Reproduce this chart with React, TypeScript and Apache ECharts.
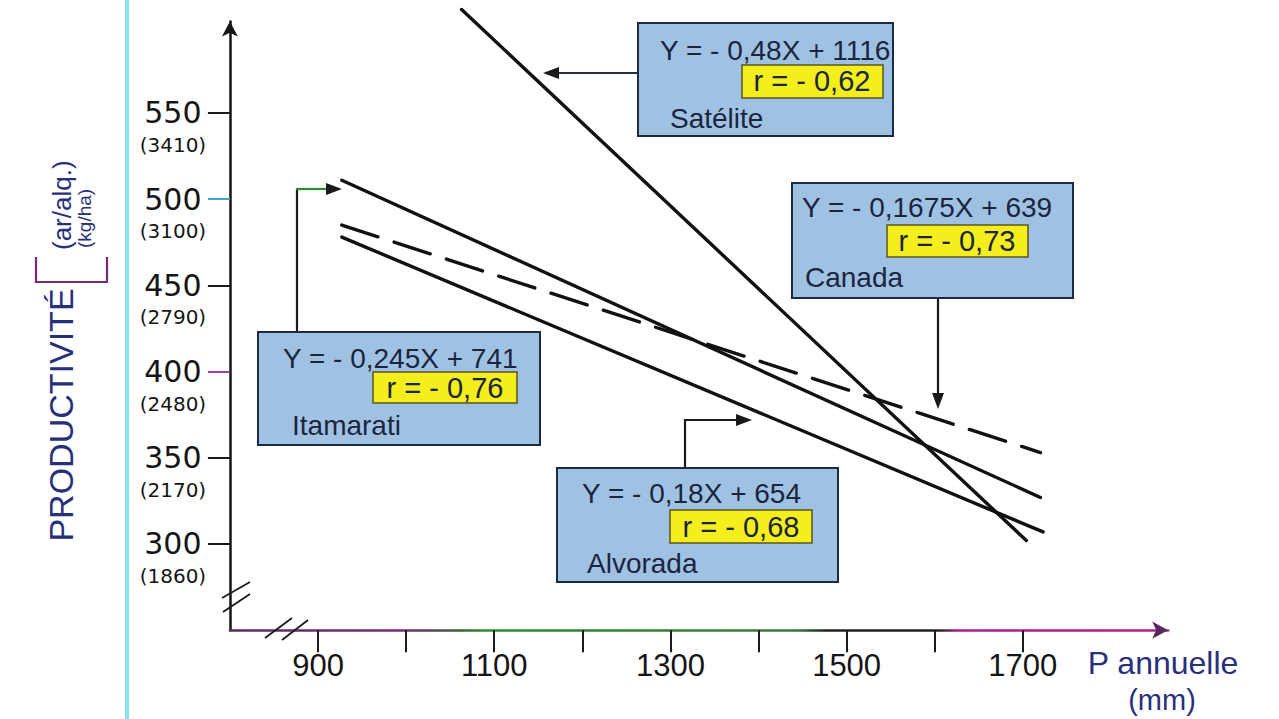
import React, { useEffect, useRef } from "react";
import * as echarts from "echarts";

// ---- data ----
const xTickValues = [900, 1000, 1100, 1200, 1300, 1400, 1500, 1600, 1700];
const xLabelValues = [900, 1100, 1300, 1500, 1700];
const yTickValues = [300, 350, 400, 450, 500, 550];
const yKgLabels = ["(1860)", "(2170)", "(2480)", "(2790)", "(3100)", "(3410)"];

// endpoints of the regression lines [P annuelle, productivité]
const sateliteLine = [[1063, 610], [1704, 302]];
const itamaratiLine = [[927, 511], [1720, 327]];
const canadaLine = [[927, 485], [1720, 353]];
const alvoradaLine = [[927, 478], [1723, 307]];

const annotations = [
  { eq: "Y = - 0,48X + 1116", r: "r = - 0,62", name: "Satélite" },
  { eq: "Y = - 0,1675X + 639", r: "r = - 0,73", name: "Canada" },
  { eq: "Y = - 0,245X + 741", r: "r = - 0,76", name: "Itamarati" },
  { eq: "Y = - 0,18X + 654", r: "r = - 0,68", name: "Alvorada" },
];

const FONT = "'Liberation Sans', Arial, sans-serif";
const WIDE = "'DejaVu Sans', 'Liberation Sans', sans-serif";
const NAVY = "#28307a";
const TXT = "#1b2540";

// box layouts (left, top, width, height, eq left/y, yellow box, r center, name left/y)
const boxLayouts = [
  { x: 638, y: 23, w: 255, h: 113, ex: 660, ey: 50, yb: [742, 65, 141, 33], rx: 812, ry: 81, nx: 670, ny: 118 },
  { x: 792, y: 183, w: 281, h: 115, ex: 802, ey: 207, yb: [887, 225, 141, 32], rx: 957, ry: 241, nx: 805, ny: 277 },
  { x: 258, y: 332, w: 282, h: 113, ex: 283, ey: 358, yb: [373, 372, 144, 31], rx: 445, ry: 388, nx: 292, ny: 425 },
  { x: 557, y: 468, w: 281, h: 114, ex: 582, ey: 493, yb: [670, 510, 142, 33], rx: 741, ry: 527, nx: 587, ny: 563 },
];

function buildGraphics(): any[] {
  const g: any[] = [];
  // cyan vertical rule
  g.push({ type: "rect", shape: { x: 125, y: 0, width: 4, height: 719 }, style: { fill: "#86e4ef" }, z: 1 });

  boxLayouts.forEach((b, i) => {
    const a = annotations[i];
    g.push({ type: "rect", z: 10, shape: { x: b.x, y: b.y, width: b.w, height: b.h }, style: { fill: "#9fc2e3", stroke: "#1c2b45", lineWidth: 2 } });
    g.push({ type: "text", z: 11, x: b.ex, y: b.ey, style: { text: a.eq, font: `28px ${FONT}`, fill: TXT, textAlign: "left", textVerticalAlign: "middle" } });
    g.push({ type: "rect", z: 11, shape: { x: b.yb[0], y: b.yb[1], width: b.yb[2], height: b.yb[3] }, style: { fill: "#f3ee1c", stroke: "#5b5420", lineWidth: 1.5 } });
    g.push({ type: "text", z: 12, x: b.rx, y: b.ry, style: { text: a.r, font: `29px ${FONT}`, fill: TXT, textAlign: "center", textVerticalAlign: "middle" } });
    g.push({ type: "text", z: 11, x: b.nx, y: b.ny, style: { text: a.name, font: `28px ${FONT}`, fill: TXT, textAlign: "left", textVerticalAlign: "middle" } });
  });

  const arrowStyle = { stroke: "#1a1a1a", lineWidth: 2.2, fill: null };
  // Satélite arrow (left)
  g.push({ type: "polyline", z: 9, shape: { points: [[637, 73], [555, 73]] }, style: { ...arrowStyle, stroke: "#22304a" } });
  g.push({ type: "polygon", z: 9, shape: { points: [[543, 73], [559, 67], [559, 79]] }, style: { fill: "#1a1a1a" } });
  // Canada arrow (down)
  g.push({ type: "polyline", z: 9, shape: { points: [[938, 298], [938, 396]] }, style: arrowStyle });
  g.push({ type: "polygon", z: 9, shape: { points: [[938, 409], [932, 393], [944, 393]] }, style: { fill: "#1a1a1a" } });
  // Itamarati arrow (up then right)
  g.push({ type: "polyline", z: 9, shape: { points: [[297, 332], [297, 189]] }, style: arrowStyle });
  g.push({ type: "polyline", z: 9, shape: { points: [[296, 189], [328, 189]] }, style: { ...arrowStyle, stroke: "#2e8a2e" } });
  g.push({ type: "polygon", z: 9, shape: { points: [[342, 189], [326, 183], [326, 195]] }, style: { fill: "#1a1a1a" } });
  // Alvorada arrow (up then right)
  g.push({ type: "polyline", z: 9, shape: { points: [[685, 468], [685, 420], [738, 420]] }, style: arrowStyle });
  g.push({ type: "polygon", z: 9, shape: { points: [[752, 420], [736, 414], [736, 426]] }, style: { fill: "#1a1a1a" } });

  // axis break marks
  const brk = { stroke: "#1a1a1a", lineWidth: 1.8 };
  g.push({ type: "line", z: 9, shape: { x1: 222, y1: 598, x2: 250, y2: 582 }, style: brk });
  g.push({ type: "line", z: 9, shape: { x1: 223, y1: 612, x2: 250, y2: 594 }, style: brk });
  g.push({ type: "line", z: 9, shape: { x1: 265, y1: 638, x2: 292, y2: 618 }, style: brk });
  g.push({ type: "line", z: 9, shape: { x1: 282, y1: 640, x2: 308, y2: 620 }, style: brk });

  // x axis name
  g.push({ type: "text", z: 9, x: 1163, y: 663, style: { text: "P annuelle", font: `32px ${FONT}`, fill: NAVY, textAlign: "center", textVerticalAlign: "middle" } });
  g.push({ type: "text", z: 9, x: 1162, y: 700, style: { text: "(mm)", font: `29px ${FONT}`, fill: NAVY, textAlign: "center", textVerticalAlign: "middle" } });

  // y axis name (rotated)
  g.push({ type: "text", z: 9, x: 61, y: 415, rotation: Math.PI / 2, style: { text: "PRODUCTIVITÉ", font: `34px ${FONT}`, fill: NAVY, textAlign: "center", textVerticalAlign: "middle" } });
  g.push({ type: "polyline", z: 9, shape: { points: [[36, 257], [36, 282], [107, 282], [107, 257]] }, style: { stroke: "#7a2a70", lineWidth: 2.2, fill: null } });
  g.push({ type: "text", z: 9, x: 62, y: 250, rotation: Math.PI / 2, style: { text: "(ar/alq.)", font: `26px ${FONT}`, fill: NAVY, textAlign: "left", textVerticalAlign: "middle" } });
  g.push({ type: "text", z: 9, x: 84, y: 248, rotation: Math.PI / 2, style: { text: "(kg/ha)", font: `19px ${FONT}`, fill: NAVY, textAlign: "left", textVerticalAlign: "middle" } });
  return g;
}

export default function App() {
  const ref = useRef<HTMLDivElement>(null);
  useEffect(() => {
    if (!ref.current) return;
    const chart = echarts.init(ref.current, null, { renderer: "svg" });
    const xGrad = new echarts.graphic.LinearGradient(229, 0, 1175, 0, [
      { offset: 0, color: "#5a2a5e" },
      { offset: 0.18, color: "#7a2a78" },
      { offset: 0.24, color: "#3a5a3a" },
      { offset: 0.27, color: "#2e8c2e" },
      { offset: 0.6, color: "#3a7a3a" },
      { offset: 0.63, color: "#222222" },
      { offset: 0.75, color: "#222222" },
      { offset: 0.77, color: "#a42090" },
      { offset: 1, color: "#b0208c" },
    ], true);
    const lineSeries = (name: string, data: number[][], dashed = false) => ({
      name,
      type: "line",
      data,
      symbol: "none",
      clip: false,
      silent: true,
      lineStyle: { color: "#111", width: 3.4, type: dashed ? [38, 17] : "solid", cap: "round" },
      z: 5,
    });
    const hiddenY = (vals: number[], color: string) => ({
      type: "value",
      min: 250,
      max: 603,
      position: "left",
      axisLine: { show: false },
      splitLine: { show: false },
      axisLabel: { show: false, customValues: vals },
      axisTick: { show: true, inside: false, length: 22, customValues: vals, lineStyle: { color, width: 2 } },
    });
    chart.setOption({
      animation: false,
      grid: { left: 229.9, top: 21.6, right: 110.8, bottom: 88.8, containLabel: false },
      xAxis: {
        type: "value",
        min: 800,
        max: 1865,
        axisLine: { show: true, symbol: ["none", "arrow"], symbolSize: [13, 16], lineStyle: { color: xGrad, width: 2.5 } },
        axisTick: { show: true, customValues: xTickValues, length: 22, lineStyle: { color: "#1a1a1a", width: 2 } },
        axisLabel: {
          customValues: xLabelValues,
          margin: 20,
          fontSize: 31,
          fontFamily: FONT,
          color: "#151515",
          formatter: (v: number) => String(v),
        },
        splitLine: { show: false },
      },
      yAxis: [
        {
          type: "value",
          min: 250,
          max: 603,
          axisLine: { show: true, symbol: ["none", "arrow"], symbolSize: [12, 15], lineStyle: { color: "#151515", width: 2.5 } },
          axisTick: { show: true, length: 22, customValues: [300, 350, 450, 550], lineStyle: { color: "#1a1a1a", width: 2 } },
          axisLabel: {
            customValues: yTickValues,
            margin: 21,
            padding: [30, 0, 0, 0],
            formatter: (v: number) => {
              const i = yTickValues.indexOf(v);
              return `{a|${v}}\n{b|${yKgLabels[i]}}`;
            },
            rich: {
              a: { fontSize: 30, lineHeight: 34, width: 72, align: "center", fontFamily: WIDE, color: "#151515" },
              b: { fontSize: 20, lineHeight: 30, width: 72, align: "center", fontFamily: WIDE, color: "#151515" },
            },
          },
          splitLine: { show: false },
        },
        hiddenY([500], "#3aa8cc"),
        hiddenY([400], "#a0409a"),
      ],
      series: [
        lineSeries("Satélite", sateliteLine),
        lineSeries("Itamarati", itamaratiLine),
        lineSeries("Canada", canadaLine, true),
        lineSeries("Alvorada", alvoradaLine),
      ],
      graphic: { elements: buildGraphics() },
    });
    return () => chart.dispose();
  }, []);
  return (
    <div
      ref={ref}
      style={{ position: "absolute", left: 0, top: 0, width: 1279, height: 719, background: "#ffffff" }}
    />
  );
}
